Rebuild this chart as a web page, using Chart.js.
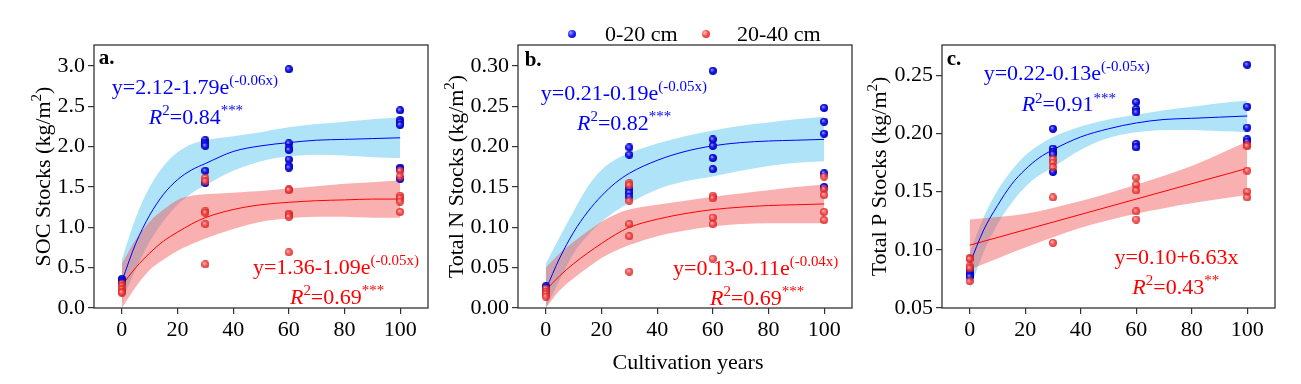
<!DOCTYPE html>
<html>
<head>
<meta charset="utf-8">
<script src="https://cdn.jsdelivr.net/npm/chart.js@4.4.1/dist/chart.umd.min.js"></script>
<style>
  body { margin: 0; background: #fff; }
  #wrap { position: relative; width: 1301px; height: 384px; overflow: hidden; font-family: "Liberation Serif", "Times New Roman", serif; }
  #wrap canvas { position: absolute; left: 0; top: 0; }
  .lg { position: absolute; font-size: 22px; line-height: 22px; color: #000; white-space: nowrap; }
  .dot { position: absolute; width: 8px; height: 8px; border-radius: 50%; }
  .blue { background: radial-gradient(circle at 35% 35%, #a0a0ff 0%, #2020ff 45%, #0000b0 100%); }
  .red { background: radial-gradient(circle at 35% 35%, #ffc0c0 0%, #ff4a4a 45%, #c82020 100%); }
  #xtitle { position: absolute; left: 0; width: 1376px; top: 351px; text-align: center; font-size: 22px; line-height: 22px; }
</style>
</head>
<body>
<div id="wrap">
  <canvas id="chartA" width="1301" height="384"></canvas>
  <canvas id="chartB" width="1301" height="384"></canvas>
  <canvas id="chartC" width="1301" height="384"></canvas>
  <div class="dot blue" style="left:568px; top:30px;"></div>
  <div class="lg" style="left:605px; top:23px;">0-20 cm</div>
  <div class="dot red" style="left:702px; top:30px;"></div>
  <div class="lg" style="left:737px; top:23px;">20-40 cm</div>
  <div id="xtitle">Cultivation years</div>
</div>
<script>
// sampling years and the x positions where the fitted curves were read
const years = [0, 30, 60, 100];
const fitX = [0, 5, 10, 15, 20, 25, 30, 40, 50, 60, 70, 80, 90, 100];
const xTicks = [0, 20, 40, 60, 80, 100];

// a. SOC stocks, one list per year
const socTop = [[0.36, 0.34, 0.33, 0.31], [2.08, 2.05, 2.03, 2.01, 1.70, 1.55], [2.96, 2.04, 1.98, 1.96, 1.84, 1.76, 1.74], [2.45, 2.33, 2.30, 2.27, 1.74, 1.72, 1.60]];
const socSub = [[0.30, 0.27, 0.23, 0.20, 0.19], [1.61, 1.57, 1.20, 1.18, 1.04, 0.54], [1.47, 1.46, 1.17, 1.15, 1.13, 0.69], [1.70, 1.63, 1.39, 1.36, 1.32, 1.19]];
const socTopFit = [0.33, 0.80, 1.15, 1.41, 1.59, 1.71, 1.79, 1.94, 2.01, 2.05, 2.08, 2.09, 2.10, 2.11];
const socTopHi = [0.60, 1.12, 1.50, 1.76, 1.93, 2.03, 2.08, 2.13, 2.18, 2.24, 2.28, 2.31, 2.34, 2.36];
const socTopLo = [0.08, 0.48, 0.82, 1.08, 1.28, 1.42, 1.52, 1.70, 1.82, 1.88, 1.90, 1.89, 1.87, 1.86];
const socSubFit = [0.28, 0.50, 0.68, 0.83, 0.94, 1.04, 1.12, 1.22, 1.28, 1.31, 1.33, 1.34, 1.35, 1.35];
const socSubHi = [0.55, 0.85, 1.07, 1.22, 1.34, 1.39, 1.41, 1.43, 1.45, 1.48, 1.51, 1.54, 1.56, 1.58];
const socSubLo = [0.00, 0.26, 0.47, 0.60, 0.71, 0.79, 0.86, 0.98, 1.07, 1.11, 1.13, 1.13, 1.12, 1.12];
const socTicks = [0, 0.5, 1.0, 1.5, 2.0, 2.5, 3.0];

// b. total N stocks
const ntTop = [[0.027, 0.025, 0.022], [0.199, 0.190, 0.148, 0.143, 0.138], [0.294, 0.209, 0.201, 0.186, 0.172], [0.248, 0.231, 0.216, 0.167, 0.150]];
const ntSub = [[0.024, 0.020, 0.017, 0.014], [0.155, 0.152, 0.133, 0.104, 0.089, 0.045], [0.139, 0.136, 0.112, 0.104, 0.061], [0.163, 0.147, 0.140, 0.119, 0.109]];
const ntTopFit = [0.023, 0.062, 0.094, 0.119, 0.139, 0.155, 0.167, 0.183, 0.194, 0.201, 0.205, 0.207, 0.208, 0.209];
const ntTopHi = [0.055, 0.088, 0.120, 0.150, 0.171, 0.184, 0.192, 0.204, 0.213, 0.220, 0.226, 0.230, 0.234, 0.237];
const ntTopLo = [0.000, 0.035, 0.068, 0.090, 0.107, 0.120, 0.130, 0.147, 0.157, 0.163, 0.170, 0.176, 0.180, 0.182];
const ntSubFit = [0.022, 0.040, 0.055, 0.068, 0.080, 0.091, 0.100, 0.110, 0.117, 0.122, 0.125, 0.127, 0.128, 0.129];
const ntSubHi = [0.050, 0.068, 0.082, 0.095, 0.107, 0.116, 0.122, 0.128, 0.133, 0.138, 0.142, 0.146, 0.150, 0.153];
const ntSubLo = [0.000, 0.022, 0.037, 0.050, 0.062, 0.071, 0.078, 0.089, 0.096, 0.101, 0.104, 0.105, 0.105, 0.105];
const ntTicks = [0, 0.05, 0.10, 0.15, 0.20, 0.25, 0.30];

// c. total P stocks (20-40 cm is a straight line fit)
const tpTop = [[0.083, 0.080, 0.078, 0.077], [0.204, 0.187, 0.184, 0.182, 0.167], [0.227, 0.221, 0.218, 0.191, 0.188], [0.259, 0.223, 0.205, 0.195, 0.193]];
const tpSub = [[0.093, 0.092, 0.086, 0.084, 0.073], [0.178, 0.175, 0.171, 0.145, 0.106], [0.162, 0.156, 0.151, 0.133, 0.126], [0.190, 0.189, 0.168, 0.150, 0.145]];
const tpTopFit = [0.088, 0.117, 0.138, 0.156, 0.169, 0.179, 0.186, 0.197, 0.204, 0.209, 0.212, 0.213, 0.214, 0.215];
const tpTopHi = [0.098, 0.128, 0.151, 0.168, 0.181, 0.190, 0.197, 0.206, 0.212, 0.216, 0.220, 0.223, 0.226, 0.228];
const tpTopLo = [0.066, 0.098, 0.122, 0.140, 0.154, 0.164, 0.171, 0.186, 0.196, 0.201, 0.203, 0.203, 0.202, 0.201];
const tpLineX = [0, 100];
const tpSubFit = [0.104, 0.170];
const tpBandX = [0, 20, 40, 60, 80, 100];
const tpSubHi = [0.126, 0.131, 0.142, 0.156, 0.172, 0.193];
const tpSubLo = [0.083, 0.102, 0.119, 0.131, 0.140, 0.147];
const tpTicks = [0.05, 0.10, 0.15, 0.20, 0.25];

const FONT = '"Liberation Serif", "Times New Roman", serif';
const BLUE = '#0000ff';
const RED = '#ff0000';
const Y_AXIS_W = 50;   // room for y tick labels, left of the plot
const X_AXIS_H = 40;   // room for x tick labels, under the plot

function makeBall(hi, mid, edge) {
  const c = document.createElement('canvas');
  c.width = 8; c.height = 8;
  const g = c.getContext('2d');
  const grd = g.createRadialGradient(2.8, 2.8, 0.2, 4, 4, 4);
  grd.addColorStop(0, hi);
  grd.addColorStop(0.45, mid);
  grd.addColorStop(1, edge);
  g.fillStyle = grd;
  g.beginPath();
  g.arc(4, 4, 4, 0, Math.PI * 2);
  g.fill();
  return c;
}
const blueBall = makeBall('#a8a8ff', '#1e1eff', '#0000a8');
const redBall = makeBall('rgba(255,195,195,0.9)', 'rgba(255,70,70,0.85)', 'rgba(200,30,30,0.85)');

function pts(groups) {
  const out = [];
  groups.forEach((g, i) => g.forEach(v => out.push({ x: years[i], y: v })));
  return out;
}
function xy(xs, ys) {
  return xs.map((x, i) => ({ x: x, y: ys[i] }));
}

// draw text made of pieces (normal / superscript / italic)
function richWidth(ctx, parts, size) {
  let w = 0;
  parts.forEach(p => {
    const fs = p.sup ? size * 0.68 : size;
    ctx.font = (p.it ? 'italic ' : '') + (p.b ? 'bold ' : '') + fs + 'px ' + FONT;
    w += ctx.measureText(p.t).width;
  });
  return w;
}
function drawRich(ctx, parts, x, y, color, size) {
  let cx = x;
  ctx.fillStyle = color;
  ctx.textBaseline = 'alphabetic';
  ctx.textAlign = 'left';
  parts.forEach(p => {
    const fs = p.sup ? size * 0.68 : size;
    ctx.font = (p.it ? 'italic ' : '') + (p.b ? 'bold ' : '') + fs + 'px ' + FONT;
    ctx.fillText(p.t, cx, p.sup ? y - size * 0.4 : y);
    cx += ctx.measureText(p.t).width;
  });
}

const panelPlugin = {
  id: 'panelDeco',
  afterDatasetsDraw(chart) {
    const a = chart.chartArea;
    const ctx = chart.ctx;
    ctx.save();
    ctx.strokeStyle = '#333';
    ctx.lineWidth = 1.3;
    ctx.strokeRect(a.left, a.top, a.right - a.left, a.bottom - a.top);
    ctx.restore();
  },
  afterDraw(chart, args, opts) {
    const ctx = chart.ctx;
    const xs = chart.scales.x, ys = chart.scales.y;
    const a = chart.chartArea;
    ctx.save();
    opts.notes.forEach(n => {
      drawRich(ctx, n.parts, xs.getPixelForValue(n.x), ys.getPixelForValue(n.y), n.color, n.size);
    });
    // rotated y axis title
    const w = richWidth(ctx, opts.title, 22);
    ctx.translate(a.left - opts.titleOff, (a.top + a.bottom) / 2);
    ctx.rotate(-Math.PI / 2);
    drawRich(ctx, opts.title, -w / 2, 8, '#000', 22);
    ctx.restore();
  }
};

function makePanel(id, cfg) {
  const tickFont = { family: FONT, size: 22 };
  new Chart(document.getElementById(id), {
    type: 'scatter',
    data: {
      datasets: [
        { data: pts(cfg.sub), pointStyle: redBall, order: 0 },
        { data: pts(cfg.top), pointStyle: blueBall, order: 1 },
        { data: cfg.topFit, showLine: true, borderColor: BLUE, borderWidth: 1, pointRadius: 0, cubicInterpolationMode: 'monotone', order: 2 },
        { data: cfg.subFit, showLine: true, borderColor: RED, borderWidth: 1, pointRadius: 0, cubicInterpolationMode: 'monotone', order: 3 },
        { data: cfg.subHi, showLine: true, borderWidth: 0, pointRadius: 0, cubicInterpolationMode: 'monotone', fill: '+1', backgroundColor: 'rgba(240,80,80,0.45)', order: 4 },
        { data: cfg.subLo, showLine: true, borderWidth: 0, pointRadius: 0, cubicInterpolationMode: 'monotone', order: 4 },
        { data: cfg.topHi, showLine: true, borderWidth: 0, pointRadius: 0, cubicInterpolationMode: 'monotone', fill: '+1', backgroundColor: 'rgba(95,200,240,0.5)', order: 5 },
        { data: cfg.topLo, showLine: true, borderWidth: 0, pointRadius: 0, cubicInterpolationMode: 'monotone', order: 5 }
      ]
    },
    options: {
      responsive: false,
      animation: false,
      events: [],
      layout: { padding: { left: cfg.left - Y_AXIS_W, right: 1301 - cfg.right, top: 45, bottom: 76 - X_AXIS_H } },
      plugins: {
        legend: { display: false },
        tooltip: { enabled: false },
        panelDeco: { notes: cfg.notes, title: cfg.title, titleOff: cfg.titleOff }
      },
      scales: {
        x: {
          type: 'linear', min: -10, max: 110,
          afterFit: s => { s.height = X_AXIS_H; },
          afterBuildTicks: s => { s.ticks = xTicks.map(v => ({ value: v })); },
          grid: { drawOnChartArea: false, drawTicks: true, tickLength: 6, color: '#333', lineWidth: 1.2 },
          border: { display: false },
          ticks: { font: tickFont, color: '#000', padding: 3, autoSkip: false, maxRotation: 0, callback: v => String(v) }
        },
        y: {
          type: 'linear', min: cfg.yMin, max: cfg.yMax,
          afterFit: s => { s.width = Y_AXIS_W; },
          afterBuildTicks: s => { s.ticks = cfg.yTicks.map(v => ({ value: v })); },
          grid: { drawOnChartArea: false, drawTicks: true, tickLength: 6, color: '#333', lineWidth: 1.2 },
          border: { display: false },
          ticks: { font: tickFont, color: '#000', padding: 3, autoSkip: false, callback: v => v.toFixed(cfg.dec) }
        }
      }
    },
    plugins: [panelPlugin]
  });
}

function eq(main, sup) { return [{ t: main }, { t: sup, sup: true }]; }
function r2(val, stars) { return [{ t: 'R', it: true }, { t: '2', sup: true }, { t: '=' + val }, { t: stars, sup: true }]; }

makePanel('chartA', {
  left: 94, right: 428, yMin: 0, yMax: 3.26, yTicks: socTicks, dec: 1, titleOff: 52,
  top: socTop, sub: socSub,
  topFit: xy(fitX, socTopFit), topHi: xy(fitX, socTopHi), topLo: xy(fitX, socTopLo),
  subFit: xy(fitX, socSubFit), subHi: xy(fitX, socSubHi), subLo: xy(fitX, socSubLo),
  title: [{ t: 'SOC Stocks (kg/m' }, { t: '2', sup: true }, { t: ')' }],
  notes: [
    { x: -8.3, y: 3.02, color: '#000', size: 21, parts: [{ t: 'a.', b: true }] },
    { x: -3.6, y: 2.65, color: BLUE, size: 22, parts: eq('y=2.12-1.79e', '(-0.06x)') },
    { x: 9.7, y: 2.28, color: BLUE, size: 22, parts: r2('0.84', '***') },
    { x: 47.1, y: 0.42, color: RED, size: 22, parts: eq('y=1.36-1.09e', '(-0.05x)') },
    { x: 60.4, y: 0.05, color: RED, size: 22, parts: r2('0.69', '***') }
  ]
});

makePanel('chartB', {
  left: 518, right: 852, yMin: 0, yMax: 0.326, yTicks: ntTicks, dec: 2, titleOff: 63,
  top: ntTop, sub: ntSub,
  topFit: xy(fitX, ntTopFit), topHi: xy(fitX, ntTopHi), topLo: xy(fitX, ntTopLo),
  subFit: xy(fitX, ntSubFit), subHi: xy(fitX, ntSubHi), subLo: xy(fitX, ntSubLo),
  title: [{ t: 'Total N Stocks (kg/m' }, { t: '2', sup: true }, { t: ')' }],
  notes: [
    { x: -7.6, y: 0.300, color: '#000', size: 21, parts: [{ t: 'b.', b: true }] },
    { x: -1.8, y: 0.258, color: BLUE, size: 22, parts: eq('y=0.21-0.19e', '(-0.05x)') },
    { x: 11.2, y: 0.221, color: BLUE, size: 22, parts: r2('0.82', '***') },
    { x: 45.7, y: 0.041, color: RED, size: 22, parts: eq('y=0.13-0.11e', '(-0.04x)') },
    { x: 59.0, y: 0.004, color: RED, size: 22, parts: r2('0.69', '***') }
  ]
});

makePanel('chartC', {
  left: 942, right: 1275, yMin: 0.05, yMax: 0.276, yTicks: tpTicks, dec: 2, titleOff: 64,
  top: tpTop, sub: tpSub,
  topFit: xy(fitX, tpTopFit), topHi: xy(fitX, tpTopHi), topLo: xy(fitX, tpTopLo),
  subFit: xy(tpLineX, tpSubFit), subHi: xy(tpBandX, tpSubHi), subLo: xy(tpBandX, tpSubLo),
  title: [{ t: 'Total P Stocks (kg/m' }, { t: '2', sup: true }, { t: ')' }],
  notes: [
    { x: -8.3, y: 0.2586, color: '#000', size: 21, parts: [{ t: 'c.', b: true }] },
    { x: 5.0, y: 0.2457, color: BLUE, size: 22, parts: eq('y=0.22-0.13e', '(-0.05x)') },
    { x: 18.7, y: 0.219, color: BLUE, size: 22, parts: r2('0.91', '***') },
    { x: 52.2, y: 0.0878, color: RED, size: 22, parts: [{ t: 'y=0.10+6.63x' }] },
    { x: 58.6, y: 0.062, color: RED, size: 22, parts: r2('0.43', '**') }
  ]
});
</script>
</body>
</html>
